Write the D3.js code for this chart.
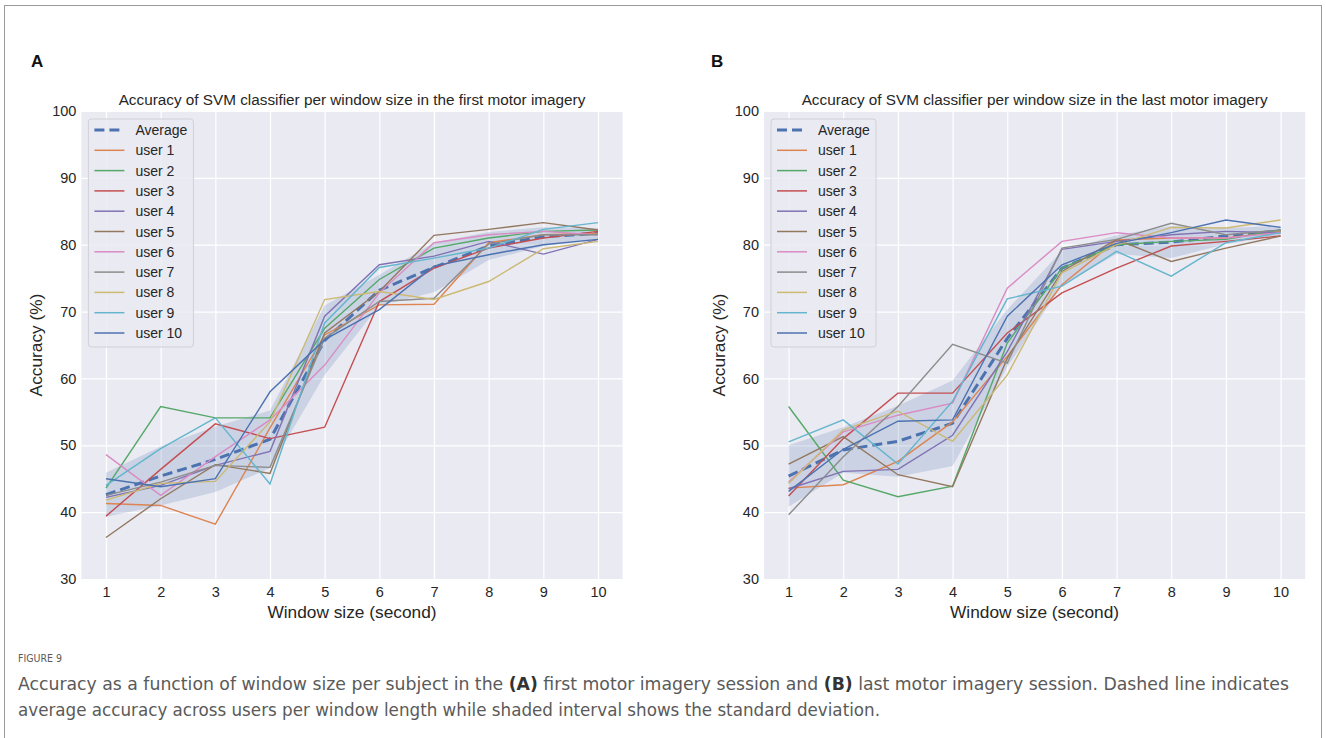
<!DOCTYPE html>
<html>
<head>
<meta charset="utf-8">
<script src="https://cdn.jsdelivr.net/npm/d3@7"></script>
<style>
  body { margin: 0; background: #fff; }
  svg { display: block; }
</style>
</head>
<body>
<svg id="fig" width="1326" height="738"></svg>
<script>
// window sizes (x axis) and y ticks
const windowSizes = [1, 2, 3, 4, 5, 6, 7, 8, 9, 10];
const yTicks = [30, 40, 50, 60, 70, 80, 90, 100];

const userNames = ["user 1", "user 2", "user 3", "user 4", "user 5",
	"user 6", "user 7", "user 8", "user 9", "user 10"];
const userColors = ["#DD8452", "#55A868", "#C44E52", "#8172B3", "#937860",
	"#DA8BC3", "#8C8C8C", "#CCB974", "#64B5CD", "#4C72B0"];

// (A) first motor imagery session, one row per user
const firstUsers = [
	[41.3, 41.0, 38.2, 52.6, 66.5, 71.0, 71.1, 80.3, 81.5, 81.7],
	[43.6, 55.8, 54.1, 54.1, 67.5, 74.8, 79.5, 81.0, 82.0, 82.2],
	[39.4, 46.4, 53.2, 51.0, 52.7, 71.5, 76.5, 79.5, 81.0, 82.0],
	[42.2, 44.0, 47.0, 49.1, 69.3, 77.0, 78.3, 80.5, 78.6, 80.8],
	[36.2, 42.0, 47.1, 45.8, 66.8, 73.0, 81.4, 82.3, 83.3, 82.2],
	[48.6, 42.5, 48.3, 53.8, 62.0, 72.8, 80.3, 81.5, 82.0, 81.5],
	[42.5, 44.5, 47.0, 46.7, 66.0, 71.5, 72.0, 80.1, 81.5, 81.5],
	[41.8, 44.3, 44.6, 53.5, 71.8, 73.0, 71.8, 74.5, 79.4, 80.5],
	[44.0, 49.5, 54.1, 44.2, 68.3, 76.6, 78.0, 79.5, 82.3, 83.3],
	[45.0, 43.8, 45.0, 58.0, 65.8, 70.3, 76.8, 78.5, 80.0, 80.8]
];
const firstAverage = [42.6, 45.4, 47.9, 50.9, 65.7, 73.2, 76.6, 79.8, 81.2, 81.7];
const firstStd = [3.3, 4.4, 4.9, 4.3, 5.2, 2.3, 3.7, 2.1, 1.4, 0.8];

// (B) last motor imagery session
const lastUsers = [
	[43.6, 44.1, 47.6, 53.5, 63.3, 74.0, 80.7, 81.0, 81.0, 82.0],
	[55.8, 44.8, 42.3, 43.9, 65.3, 76.5, 80.0, 80.5, 80.8, 82.2],
	[42.4, 51.0, 57.8, 57.8, 66.8, 72.8, 76.5, 79.8, 80.5, 81.3],
	[43.5, 46.1, 46.4, 51.5, 64.0, 79.3, 80.5, 81.5, 82.0, 81.8],
	[47.2, 51.3, 45.6, 43.8, 63.0, 76.0, 80.8, 77.5, 79.5, 81.3],
	[44.5, 52.0, 54.5, 56.3, 73.5, 80.5, 81.8, 81.0, 81.0, 81.8],
	[39.6, 48.3, 55.8, 65.1, 62.3, 79.5, 80.8, 83.2, 81.5, 82.2],
	[44.3, 52.3, 55.1, 50.6, 60.5, 75.8, 80.0, 82.6, 82.5, 83.7],
	[50.5, 53.8, 47.2, 56.6, 71.9, 73.8, 79.0, 75.3, 80.3, 81.8],
	[43.1, 49.4, 53.6, 53.8, 69.3, 77.0, 80.2, 81.8, 83.7, 82.6]
];
const lastAverage = [45.4, 49.3, 50.6, 53.3, 66.0, 76.5, 80.0, 80.4, 81.3, 82.1];
const lastStd = [4.6, 3.4, 5.3, 6.4, 4.3, 2.6, 1.4, 2.4, 1.2, 0.7];

const svg = d3.select("#fig");
const font = "'Liberation Sans', Arial, sans-serif";
const plotTop = 111, plotBottom = 579;

// outer frame of the figure
svg.append("rect")
	.attr("x", 4.5).attr("y", 5.5)
	.attr("width", 1317).attr("height", 760)
	.attr("fill", "none")
	.attr("stroke", "#9a9a9a")
	.attr("stroke-width", 1);

function drawPanel(p) {
	const x = d3.scaleLinear().domain([0.55, 10.45]).range([p.left, p.right]);
	const y = d3.scaleLinear().domain([30, 100]).range([plotBottom, plotTop]);
	const g = svg.append("g");

	g.append("rect")
		.attr("x", p.left).attr("y", plotTop)
		.attr("width", p.right - p.left).attr("height", plotBottom - plotTop)
		.attr("fill", "#EAEAF2");

	// white grid
	g.append("g")
		.attr("transform", `translate(0,${plotBottom})`)
		.call(d3.axisBottom(x).tickValues(windowSizes).tickSize(-(plotBottom - plotTop)).tickFormat(""))
		.call(a => a.select(".domain").remove())
		.call(a => a.selectAll("line").attr("stroke", "#fff").attr("stroke-width", 1.2));
	g.append("g")
		.attr("transform", `translate(${p.left},0)`)
		.call(d3.axisLeft(y).tickValues(yTicks).tickSize(-(p.right - p.left)).tickFormat(""))
		.call(a => a.select(".domain").remove())
		.call(a => a.selectAll("line").attr("stroke", "#fff").attr("stroke-width", 1.2));

	// tick labels
	const xAxis = g.append("g")
		.attr("transform", `translate(0,${plotBottom})`)
		.call(d3.axisBottom(x).tickValues(windowSizes).tickSize(0).tickPadding(8));
	const yAxis = g.append("g")
		.attr("transform", `translate(${p.left},0)`)
		.call(d3.axisLeft(y).tickValues(yTicks).tickSize(0).tickPadding(5));
	[xAxis, yAxis].forEach(a => {
		a.select(".domain").remove();
		a.selectAll("text")
			.attr("font-family", font)
			.attr("font-size", 14.5)
			.attr("fill", "#262626");
	});

	// std band
	const band = d3.area()
		.x((d, i) => x(windowSizes[i]))
		.y0((d, i) => y(p.avg[i] - p.std[i]))
		.y1((d, i) => y(p.avg[i] + p.std[i]));
	g.append("path")
		.datum(p.avg)
		.attr("d", band)
		.attr("fill", "#4C72B0")
		.attr("fill-opacity", 0.2);

	const line = d3.line().x((d, i) => x(windowSizes[i])).y(d => y(d));

	g.append("path")
		.datum(p.avg)
		.attr("d", line)
		.attr("fill", "none")
		.attr("stroke", "#4C72B0")
		.attr("stroke-width", 3)
		.attr("stroke-dasharray", "10,5");

	g.selectAll(".user")
		.data(p.users)
		.enter().append("path")
		.attr("class", "user")
		.attr("d", line)
		.attr("fill", "none")
		.attr("stroke", (d, i) => userColors[i])
		.attr("stroke-width", 1.4);

	// title, labels, panel letter
	const cx = (p.left + p.right) / 2;
	g.append("text")
		.attr("x", cx).attr("y", 105)
		.attr("text-anchor", "middle")
		.attr("font-family", font).attr("font-size", 15.3)
		.attr("fill", "#262626")
		.text(p.title);
	g.append("text")
		.attr("x", cx).attr("y", 618)
		.attr("text-anchor", "middle")
		.attr("font-family", font).attr("font-size", 17.3)
		.attr("fill", "#262626")
		.text("Window size (second)");
	g.append("text")
		.attr("transform", `translate(${p.left - 39},${(plotTop + plotBottom) / 2}) rotate(-90)`)
		.attr("text-anchor", "middle")
		.attr("font-family", font).attr("font-size", 17.3)
		.attr("fill", "#262626")
		.text("Accuracy (%)");
	g.append("text")
		.attr("x", p.letterX).attr("y", 67)
		.attr("font-family", font).attr("font-size", 17)
		.attr("font-weight", "bold")
		.attr("fill", "#111")
		.text(p.letter);

	// legend
	const lx = p.left + 7, ly = plotTop + 8;
	const leg = g.append("g").attr("transform", `translate(${lx},${ly})`);
	leg.append("rect")
		.attr("width", 105).attr("height", 228)
		.attr("rx", 3)
		.attr("fill", "#EAEAF2").attr("fill-opacity", 0.85)
		.attr("stroke", "#d0d0d6");
	const entries = [{ name: "Average", color: "#4C72B0", avg: true }]
		.concat(userNames.map((n, i) => ({ name: n, color: userColors[i] })));
	const rows = leg.selectAll(".entry")
		.data(entries)
		.enter().append("g")
		.attr("transform", (d, i) => `translate(0,${11 + i * 20.3})`);
	rows.append("line")
		.attr("x1", 6).attr("x2", 36)
		.attr("stroke", d => d.color)
		.attr("stroke-width", d => d.avg ? 3 : 1.5)
		.attr("stroke-dasharray", d => d.avg ? "10,5" : null);
	rows.append("text")
		.attr("x", 47).attr("y", 5)
		.attr("font-family", font).attr("font-size", 14)
		.attr("fill", "#262626")
		.text(d => d.name);
}

drawPanel({
	left: 81.4, right: 622.6, letter: "A", letterX: 31,
	title: "Accuracy of SVM classifier per window size in the first motor imagery",
	users: firstUsers, avg: firstAverage, std: firstStd
});
drawPanel({
	left: 764, right: 1305.2, letter: "B", letterX: 711,
	title: "Accuracy of SVM classifier per window size in the last motor imagery",
	users: lastUsers, avg: lastAverage, std: lastStd
});

// caption
const capFont = "'DejaVu Sans Condensed', 'Liberation Sans Narrow', 'Open Sans', sans-serif";
svg.append("text")
	.attr("x", 18).attr("y", 662)
	.attr("font-family", capFont).attr("font-size", 11)
	.attr("fill", "#5a5a5a")
	.attr("textLength", 44).attr("lengthAdjust", "spacingAndGlyphs")
	.text("FIGURE 9");

const cap1 = svg.append("text")
	.attr("x", 18).attr("y", 690)
	.attr("font-family", capFont).attr("font-size", 17)
	.attr("fill", "#5a5a5a")
	.attr("textLength", 1271).attr("lengthAdjust", "spacingAndGlyphs");
cap1.append("tspan").text("Accuracy as a function of window size per subject in the ");
cap1.append("tspan").attr("font-weight", "bold").attr("fill", "#333").text("(A)");
cap1.append("tspan").text(" first motor imagery session and ");
cap1.append("tspan").attr("font-weight", "bold").attr("fill", "#333").text("(B)");
cap1.append("tspan").text(" last motor imagery session. Dashed line indicates");

svg.append("text")
	.attr("x", 18).attr("y", 716)
	.attr("font-family", capFont).attr("font-size", 17)
	.attr("fill", "#5a5a5a")
	.attr("textLength", 862).attr("lengthAdjust", "spacingAndGlyphs")
	.text("average accuracy across users per window length while shaded interval shows the standard deviation.");
</script>
</body>
</html>
